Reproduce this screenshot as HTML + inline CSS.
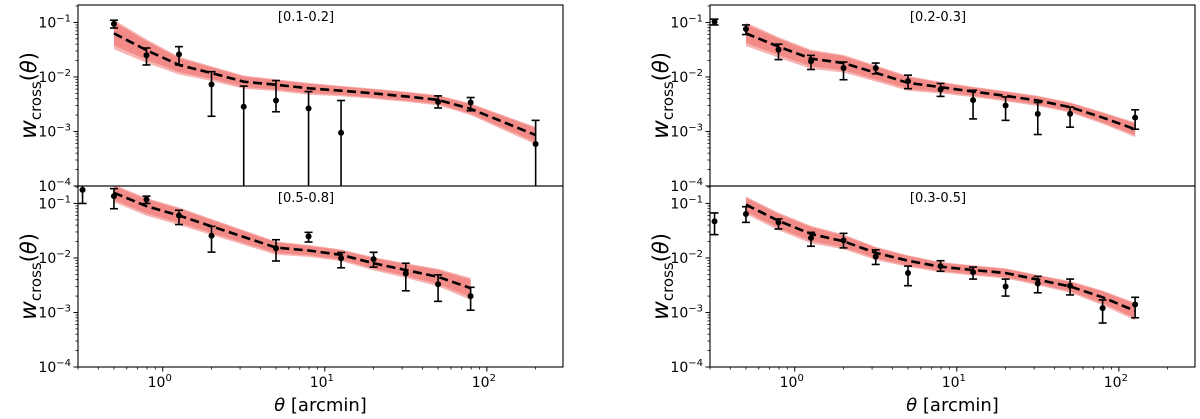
<!DOCTYPE html>
<html><head><meta charset="utf-8"><style>
html,body{margin:0;padding:0;background:#fff;}
svg{display:block;font-family:"DejaVu Sans","Liberation Sans",sans-serif;}
</style></head><body>
<svg id="fig" width="1200" height="419" viewBox="0 0 1200 419" xmlns="http://www.w3.org/2000/svg"></svg>
<script>
const thetaGrid = [0.32,0.5,0.794,1.26,2,3.16,5,7.94,12.6,20,31.6,50,79.4,126,200];
const xTickLabels = ["10","10","10"];
const xTickExps = ["0","1","2"];
const yTickExps = ["−1","−2","−3","−4"];

// Panel [0.1-0.2]
const p1Theta = [0.5,0.794,1.26,2,3.16,5,7.94,12.6,50,79.4,200];
const p1Val   = [0.094,0.025,0.026,0.0073,0.00285,0.0037,0.00266,0.00095,0.0035,0.0034,0.00059];
const p1Hi    = [0.11,0.034,0.036,0.0125,0.0068,0.0086,0.0054,0.0037,0.0045,0.0042,0.0016];
const p1Lo    = [0.079,0.0166,0.0166,0.0019,0,0.0023,0,0,0.0027,0.0024,0];
const p1ModTheta = [0.5,0.794,1.26,2,3.16,5,7.94,12.6,20,31.6,50,79.4,200];
const p1Model = [0.063,0.031,0.0166,0.0118,0.0082,0.0072,0.0062,0.0056,0.005,0.0044,0.0038,0.0026,0.00086];
const p1Spread= [0.2,0.16,0.12,0.1,0.09,0.08,0.08,0.07,0.07,0.07,0.07,0.08,0.12];

// Panel [0.2-0.3]
const p2Theta = [0.32,0.5,0.794,1.26,2,3.16,5,7.94,12.6,20,31.6,50,126];
const p2Val   = [0.103,0.076,0.0316,0.0194,0.0146,0.0146,0.0084,0.0059,0.00375,0.003,0.0021,0.0021,0.0018];
const p2Hi    = [0.115,0.09,0.04,0.0249,0.0188,0.018,0.0108,0.0076,0.0057,0.0043,0.0034,0.0028,0.0025];
const p2Lo    = [0.09,0.06,0.0208,0.0137,0.0089,0.0114,0.0061,0.0044,0.0017,0.0016,0.00088,0.0012,0.0011];
const p2ModTheta = [0.5,0.794,1.26,2,3.16,5,7.94,12.6,20,31.6,50,79.4,126];
const p2Model = [0.063,0.036,0.0217,0.018,0.0119,0.0078,0.0065,0.0054,0.0045,0.0037,0.0028,0.0018,0.0011];
const p2Spread= [0.16,0.14,0.13,0.12,0.11,0.1,0.08,0.07,0.07,0.07,0.07,0.08,0.1];

// Panel [0.5-0.8]
const p3Theta = [0.32,0.5,0.794,1.26,2,5,7.94,12.6,20,31.6,50,79.4];
const p3Val   = [0.177,0.136,0.118,0.06,0.0256,0.0151,0.0249,0.0099,0.0095,0.0052,0.0033,0.002];
const p3Hi    = [0.25,0.187,0.136,0.075,0.038,0.0216,0.0295,0.0126,0.0127,0.008,0.0049,0.0029];
const p3Lo    = [0.1,0.08,0.1,0.041,0.0128,0.0088,0.0196,0.0066,0.0068,0.0025,0.0016,0.0011];
const p3ModTheta = [0.5,0.794,1.26,2,5,7.94,12.6,20,31.6,50,79.4];
const p3Model = [0.157,0.089,0.06,0.038,0.0155,0.0137,0.0114,0.008,0.006,0.0045,0.0028];
const p3Spread= [0.12,0.12,0.12,0.11,0.09,0.08,0.08,0.09,0.1,0.12,0.15];

// Panel [0.3-0.5]
const p4Theta = [0.32,0.5,0.794,1.26,2,3.16,5,7.94,12.6,20,31.6,50,79.4,126];
const p4Val   = [0.047,0.064,0.045,0.0233,0.021,0.0106,0.0053,0.0071,0.0055,0.003,0.0034,0.0031,0.0012,0.0014];
const p4Hi    = [0.067,0.087,0.052,0.0295,0.0283,0.0141,0.0071,0.0089,0.0068,0.0041,0.0046,0.0041,0.0017,0.0019];
const p4Lo    = [0.0268,0.045,0.034,0.0164,0.0153,0.0076,0.0031,0.0057,0.0041,0.002,0.0023,0.0021,0.00064,0.0008];
const p4ModTheta = [0.5,0.794,1.26,2,3.16,5,7.94,12.6,20,31.6,50,79.4,126];
const p4Model = [0.095,0.048,0.0276,0.0202,0.0124,0.0089,0.0069,0.006,0.0053,0.004,0.003,0.0019,0.00107];
const p4Spread= [0.12,0.12,0.12,0.1,0.09,0.08,0.07,0.07,0.07,0.07,0.08,0.1,0.12];

const NS="http://www.w3.org/2000/svg";
const svg=document.getElementById('fig');
function el(tag,attrs,parent){const e=document.createElementNS(NS,tag);for(const k in attrs)e.setAttribute(k,attrs[k]);(parent||svg).appendChild(e);return e;}

const XMIN=Math.log10(0.3), XMAX=Math.log10(295);
const YMIN=-4, YMAX=-0.68;

function makePanel(id,label,x0,y0,w,h,th,val,hi,lo,mth,mod,spread,showX){
  const g=el('g',{});
  
  
  const X=v=>x0+(Math.log10(v)-XMIN)/(XMAX-XMIN)*w;
  const Y=v=>y0+h-(Math.log10(Math.max(v,1e-6))-YMIN)/(YMAX-YMIN)*h;
  const clipId=id+'-clip';
  const cp=el('clipPath',{id:clipId},g);
  el('rect',{x:x0,y:y0,width:w,height:h},cp);
  const plot=el('g',{'clip-path':'url(#'+clipId+')'},g);
  let up=[],dn=[];
  for(let i=0;i<mth.length;i++){up.push(X(mth[i])+','+Y(mod[i]*Math.pow(10,spread[i]*1.25)));dn.unshift(X(mth[i])+','+Y(mod[i]*Math.pow(10,-spread[i]*1.45)));}
  const b0=el('polygon',{points:up.concat(dn).join(' '),fill:'#f6b4b2'},plot);
  
  
  up=[];dn=[];
  for(let i=0;i<mth.length;i++){up.push(X(mth[i])+','+Y(mod[i]*Math.pow(10,spread[i]*1.05)));dn.unshift(X(mth[i])+','+Y(mod[i]*Math.pow(10,-spread[i]*1.1)));}
  const b1=el('polygon',{points:up.concat(dn).join(' '),fill:'#f28b87'},plot);
  
  
  const ml=el('polyline',{points:mth.map((t,i)=>X(t)+','+Y(mod[i])).join(' '),fill:'none',stroke:'#000','stroke-width':2.6,'stroke-dasharray':'9,4.5'},plot);
  
  
  for(let i=0;i<th.length;i++){
    const cx=X(th[i]);
    const pg=el('g',{},plot);
    
    
    const yh=Y(hi[i]), yl=lo[i]>0?Y(lo[i]):y0+h+5;
    el('line',{x1:cx,x2:cx,y1:yh,y2:yl,stroke:'#000','stroke-width':1.6},pg);
    el('line',{x1:cx-4,x2:cx+4,y1:yh,y2:yh,stroke:'#000','stroke-width':1.6},pg);
    if(lo[i]>0)el('line',{x1:cx-4,x2:cx+4,y1:yl,y2:yl,stroke:'#000','stroke-width':1.6},pg);
    el('circle',{cx:cx,cy:Y(val[i]),r:3,fill:'#000'},pg);
  }
  const fr=el('rect',{x:x0,y:y0,width:w,height:h,fill:'none',stroke:'#000','stroke-width':1.1},g);
  
  
  for(let d=-4;d<=-1;d++){
    const yy=Y(Math.pow(10,d));
    el('line',{x1:x0-4.5,x2:x0,y1:yy,y2:yy,stroke:'#000','stroke-width':1},g);
    const t=el('text',{x:x0-7,y:yy+5,'text-anchor':'end','font-size':14},g);
    
    
    t.textContent='10';
    el('tspan',{dy:-6,'font-size':10},t).textContent=yTickExps[-1-d];
    for(let m=2;m<=9;m++){const v=m*Math.pow(10,d);const ym=Y(v);if(ym<y0)continue;el('line',{x1:x0-2.5,x2:x0,y1:ym,y2:ym,stroke:'#000','stroke-width':0.8},g);}
  }
  if(showX){
    for(let d=-1;d<=2;d++)for(let m=1;m<=9;m++){
      const v=m*Math.pow(10,d);const lx=Math.log10(v);if(lx<XMIN-1e-9||lx>XMAX)continue;
      const xx=X(v);
      el('line',{x1:xx,x2:xx,y1:y0+h,y2:y0+h+(m===1?4.5:2.5),stroke:'#000','stroke-width':m===1?1:0.8},g);
      if(m===1&&d>=0){
        const t=el('text',{x:xx-3,y:y0+h+20,'text-anchor':'middle','font-size':14},g);
        
        
        t.textContent=xTickLabels[d];
        el('tspan',{dy:-6,'font-size':10},t).textContent=xTickExps[d];
      }
    }
    const xl=el('text',{x:x0+w/2,y:y0+h+44,'text-anchor':'middle','font-size':18},g);
    
    
    el('tspan',{'font-style':'italic'},xl).textContent='θ';
    el('tspan',{},xl).textContent=' [arcmin]';
  }
  const lb=el('text',{x:x0+228,y:y0+16,'text-anchor':'middle','font-size':13},g);
  
  
  lb.textContent=label;
  const cy=y0+h/2;
  const yl=el('text',{x:0,y:0,'text-anchor':'middle','font-size':21,transform:'translate('+(x0-42)+','+cy+') rotate(-90)'},g);
  
  
  el('tspan',{'font-style':'italic','font-size':23},yl).textContent='w';
  el('tspan',{'font-size':15,dy:5},yl).textContent='cross';
  el('tspan',{dy:-5},yl).textContent='(';
  el('tspan',{'font-style':'italic'},yl).textContent='θ';
  el('tspan',{},yl).textContent=')';
}
makePanel('panel-0.1-0.2','[0.1-0.2]',78,5,485,181,p1Theta,p1Val,p1Hi,p1Lo,p1ModTheta,p1Model,p1Spread,false);
makePanel('panel-0.5-0.8','[0.5-0.8]',78,186,485,181,p3Theta,p3Val,p3Hi,p3Lo,p3ModTheta,p3Model,p3Spread,true);
makePanel('panel-0.2-0.3','[0.2-0.3]',710,5,485,181,p2Theta,p2Val,p2Hi,p2Lo,p2ModTheta,p2Model,p2Spread,false);
makePanel('panel-0.3-0.5','[0.3-0.5]',710,186,485,181,p4Theta,p4Val,p4Hi,p4Lo,p4ModTheta,p4Model,p4Spread,true);
</script>
</body></html>
